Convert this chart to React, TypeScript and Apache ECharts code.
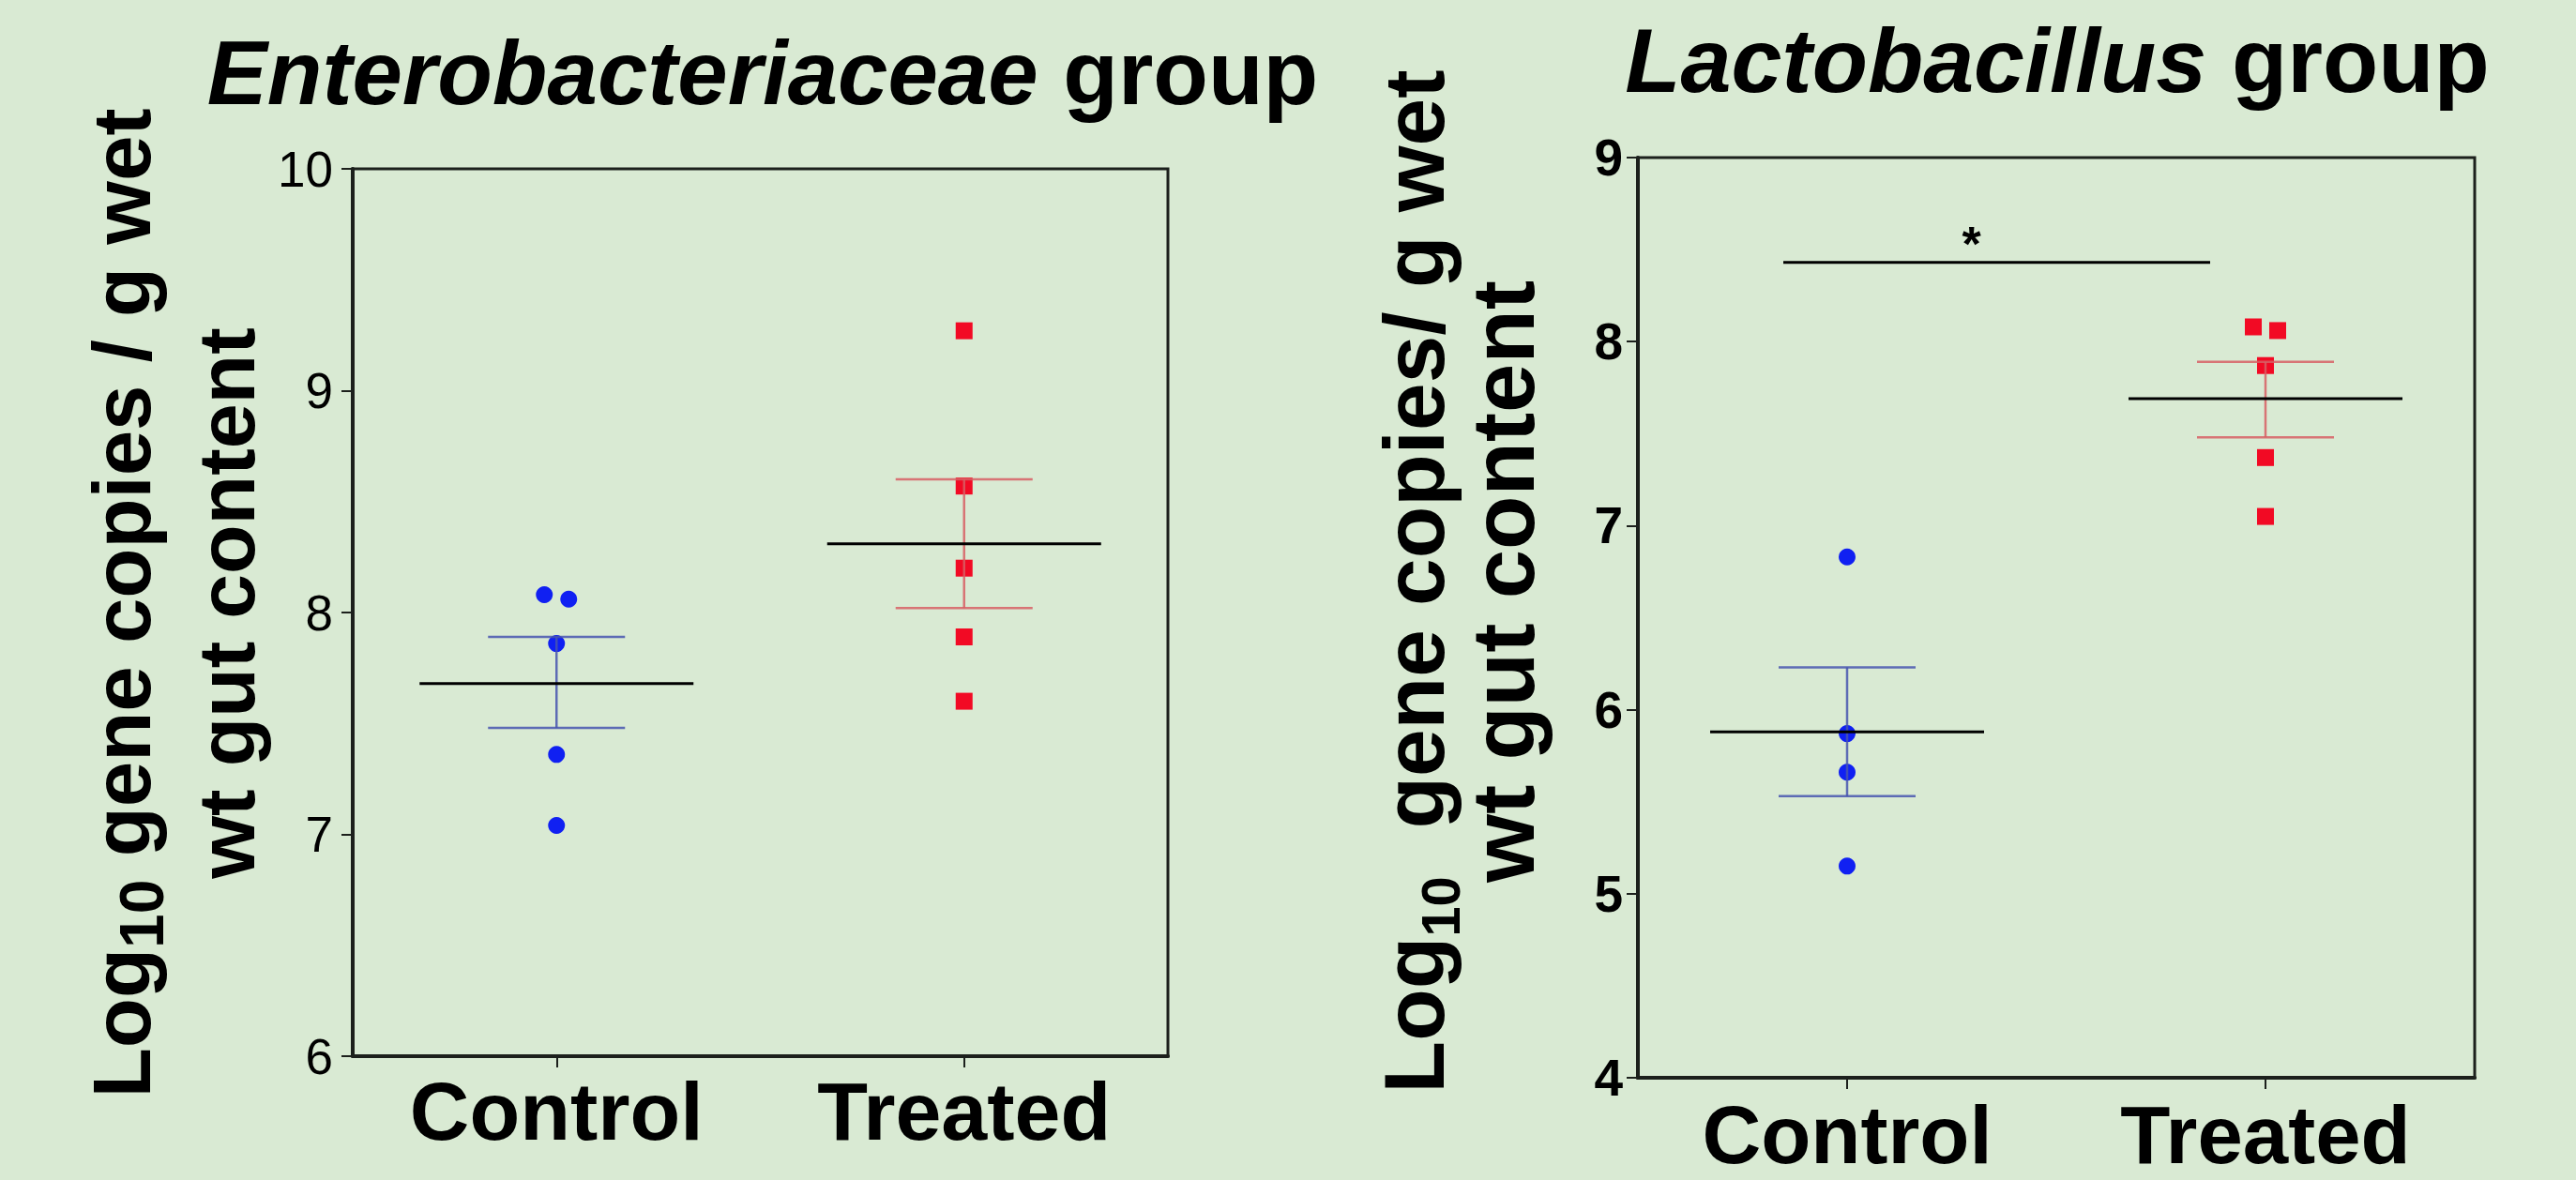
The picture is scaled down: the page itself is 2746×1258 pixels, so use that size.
import React, { useEffect, useRef } from 'react';
import * as echarts from 'echarts';

// ---------------- DATA ----------------
const categories = ['Control', 'Treated'];

// Enterobacteriaceae group
const enteroControl = [8.08, 8.06, 7.86, 7.36, 7.04];
const enteroTreated = [9.27, 8.57, 8.2, 7.89, 7.6];
const enteroMean = [7.68, 8.31];
const enteroSemLow = [7.48, 8.02];
const enteroSemHigh = [7.89, 8.6];
const enteroTicks = [6, 7, 8, 9, 10];

// Lactobacillus group
const lactoControl = [6.83, 5.87, 5.66, 5.15];
const lactoTreated = [8.08, 8.06, 7.87, 7.37, 7.05];
const lactoMean = [5.88, 7.69];
const lactoSemLow = [5.53, 7.48];
const lactoSemHigh = [6.23, 7.89];
const lactoTicks = [4, 5, 6, 7, 8, 9];
const lactoSignificance = [{ from: 0, to: 1, value: 8.43, label: '*' }];

// ---------------- STYLE ----------------
const FONT = "'Liberation Sans', Arial, Helvetica, sans-serif";
const BG = '#d9ead3';
const AXIS = '#1c201c';
const BLUE = '#1020f2';
const BLUE_ERR = 'rgba(70,85,175,0.85)';
const RED = '#f20a24';
const RED_ERR = 'rgba(215,95,100,0.85)';
// horizontal jitter (px) of overlapping points, by point index
const enteroControlJitter = [-13, 13, 0, 0, 0];
const enteroTreatedJitter = [0, 0, 0, 0, 0];
const lactoControlJitter = [0, 0, 0, 0];
const lactoTreatedJitter = [-13, 13, 0, 0, 0];

const MEAN_HALF = 146;
const CAP_HALF = 73;

function scatterData(cat: number, vals: number[], jitter: number[]) {
  return vals.map((v, i) => ({ value: [cat, v], symbolOffset: [jitter[i] || 0, 0] }));
}

function meanSeries(gridIdx: number, mean: number[], lo: number[], hi: number[], colors: string[]) {
  return {
    type: 'custom',
    xAxisIndex: gridIdx,
    yAxisIndex: gridIdx,
    z: 5,
    data: mean.map((m, i) => [i, m, lo[i], hi[i]]),
    renderItem: (params: any, api: any) => {
      const cat = api.value(0);
      const pm = api.coord([cat, api.value(1)]);
      const pl = api.coord([cat, api.value(2)]);
      const ph = api.coord([cat, api.value(3)]);
      const c = colors[params.dataIndex];
      return {
        type: 'group',
        children: [
          { type: 'line', shape: { x1: pl[0], y1: pl[1], x2: ph[0], y2: ph[1] }, style: { stroke: c, lineWidth: 2.5 } },
          { type: 'line', shape: { x1: ph[0] - CAP_HALF, y1: ph[1], x2: ph[0] + CAP_HALF, y2: ph[1] }, style: { stroke: c, lineWidth: 2.5 } },
          { type: 'line', shape: { x1: pl[0] - CAP_HALF, y1: pl[1], x2: pl[0] + CAP_HALF, y2: pl[1] }, style: { stroke: c, lineWidth: 2.5 } },
          { type: 'line', shape: { x1: pm[0] - MEAN_HALF, y1: pm[1], x2: pm[0] + MEAN_HALF, y2: pm[1] }, style: { stroke: '#000', lineWidth: 3 } },
        ],
      };
    },
  };
}

function xAxisCfg(gridIndex: number, fontSize: number, margin: number) {
  return {
    type: 'category',
    gridIndex,
    data: categories,
    boundaryGap: true,
    axisLine: { show: true, lineStyle: { color: AXIS, width: 4 } },
    axisTick: { show: true, alignWithLabel: true, length: 12, lineStyle: { color: AXIS, width: 2 } },
    axisLabel: { fontSize, fontWeight: 'bold', fontFamily: FONT, color: '#000', margin },
    splitLine: { show: false },
  };
}

function yAxisCfg(gridIndex: number, ticks: number[], fontSize: number, weight: string, margin: number) {
  return {
    type: 'value',
    gridIndex,
    min: ticks[0],
    max: ticks[ticks.length - 1],
    interval: ticks[1] - ticks[0],
    axisLine: { show: true, lineStyle: { color: AXIS, width: 4 } },
    axisTick: { show: true, length: 12, lineStyle: { color: AXIS, width: 2 } },
    axisLabel: { fontSize, fontWeight: weight, fontFamily: FONT, color: '#000', margin },
    splitLine: { show: false },
  };
}

function scatterSeries(gridIdx: number, symbol: string, color: string, data: any[]) {
  return {
    type: 'scatter',
    xAxisIndex: gridIdx,
    yAxisIndex: gridIdx,
    symbol,
    symbolSize: 18,
    itemStyle: { color, opacity: 1 },
    data,
  };
}

export default function App() {
  const ref = useRef<HTMLDivElement>(null);
  useEffect(() => {
    document.body.style.margin = '0';
    document.body.style.background = BG;
    const chart = echarts.init(ref.current!, null, { renderer: 'svg' });
    const option: any = {
      animation: false,
      backgroundColor: BG,
      grid: [
        { left: 376, top: 180, width: 869, height: 946, show: true, borderColor: AXIS, borderWidth: 3, backgroundColor: 'transparent' },
        { left: 1746, top: 168, width: 892, height: 981, show: true, borderColor: AXIS, borderWidth: 3, backgroundColor: 'transparent' },
      ],
      xAxis: [xAxisCfg(0, 88, 14), xAxisCfg(1, 87, 17)],
      yAxis: [yAxisCfg(0, enteroTicks, 53, 'normal', 21), yAxisCfg(1, lactoTicks, 55, 'bold', 16)],
      series: [
        scatterSeries(0, 'circle', BLUE, scatterData(0, enteroControl, enteroControlJitter)),
        scatterSeries(0, 'rect', RED, scatterData(1, enteroTreated, enteroTreatedJitter)),
        meanSeries(0, enteroMean, enteroSemLow, enteroSemHigh, [BLUE_ERR, RED_ERR]),
        scatterSeries(1, 'circle', BLUE, scatterData(0, lactoControl, lactoControlJitter)),
        scatterSeries(1, 'rect', RED, scatterData(1, lactoTreated, lactoTreatedJitter)),
        meanSeries(1, lactoMean, lactoSemLow, lactoSemHigh, [BLUE_ERR, RED_ERR]),
        {
          type: 'custom',
          xAxisIndex: 1,
          yAxisIndex: 1,
          z: 6,
          data: lactoSignificance.map((s) => [s.from, s.to, s.value]),
          renderItem: (params: any, api: any) => {
            const p0 = api.coord([api.value(0), api.value(2)]);
            const p1 = api.coord([api.value(1), api.value(2)]);
            const xa = p0[0] - 68;
            const xb = p1[0] - 59;
            return {
              type: 'group',
              children: [
                { type: 'line', shape: { x1: xa, y1: p0[1], x2: xb, y2: p1[1] }, style: { stroke: '#000', lineWidth: 3 } },
                {
                  type: 'text',
                  style: {
                    text: lactoSignificance[params.dataIndex].label,
                    x: (xa + xb) / 2 - 27,
                    y: p0[1] - 20,
                    align: 'center',
                    verticalAlign: 'middle',
                    fontSize: 52,
                    fontWeight: 'bold',
                    fontFamily: FONT,
                    fill: '#000',
                  },
                },
              ],
            };
          },
        },
      ],
      graphic: [
        {
          type: 'text', x: 813, y: 77,
          style: {
            text: '{i|Enterobacteriaceae}{n| group}', align: 'center', verticalAlign: 'middle',
            rich: {
              i: { fontSize: 96, fontWeight: 'bold', fontStyle: 'italic', fontFamily: FONT, fill: '#000' },
              n: { fontSize: 96, fontWeight: 'bold', fontFamily: FONT, fill: '#000' },
            },
          },
        },
        {
          type: 'text', x: 2193, y: 64,
          style: {
            text: '{i|Lactobacillus}{n| group}', align: 'center', verticalAlign: 'middle',
            rich: {
              i: { fontSize: 97, fontWeight: 'bold', fontStyle: 'italic', fontFamily: FONT, fill: '#000' },
              n: { fontSize: 97, fontWeight: 'bold', fontFamily: FONT, fill: '#000' },
            },
          },
        },
        {
          type: 'text', x: 129, y: 643, rotation: Math.PI / 2,
          style: {
            text: '{m|Log}{s|10}{m| gene copies / g wet}', align: 'center', verticalAlign: 'middle',
            rich: {
              m: { fontSize: 87, fontWeight: 'bold', fontFamily: FONT, lineHeight: 110, fill: '#000' },
              s: { fontSize: 66, fontWeight: 'bold', fontFamily: FONT, lineHeight: 58, verticalAlign: 'bottom', fill: '#000' },
            },
          },
        },
        {
          type: 'text', x: 241, y: 643, rotation: Math.PI / 2,
          style: { text: 'wt gut content', align: 'center', verticalAlign: 'middle', fontSize: 86, fontWeight: 'bold', fontFamily: FONT, fill: '#000' },
        },
        {
          type: 'text', x: 1507, y: 620, rotation: Math.PI / 2,
          style: {
            text: '{m|Log}{s|10}{m|\u00a0 gene copies/ g wet}', align: 'center', verticalAlign: 'middle',
            rich: {
              m: { fontSize: 91, fontWeight: 'bold', fontFamily: FONT, lineHeight: 114, fill: '#000' },
              s: { fontSize: 58, fontWeight: 'bold', fontFamily: FONT, lineHeight: 30, verticalAlign: 'bottom', fill: '#000' },
            },
          },
        },
        {
          type: 'text', x: 1602, y: 620, rotation: Math.PI / 2,
          style: { text: 'wt gut content', align: 'center', verticalAlign: 'middle', fontSize: 94, fontWeight: 'bold', fontFamily: FONT, fill: '#000' },
        },
      ],
    };
    chart.setOption(option);
    return () => chart.dispose();
  }, []);
  return <div ref={ref} style={{ width: 2746, height: 1258 }} />;
}
